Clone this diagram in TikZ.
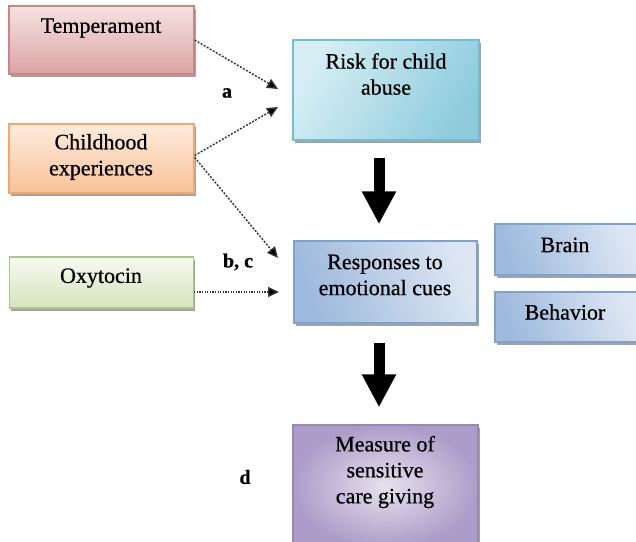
\documentclass[tikz,border=0pt]{standalone}
\usepackage{fontspec}
\setmainfont[FakeBold=0.6]{Liberation Serif}
\usetikzlibrary{arrows.meta,shadows}
\definecolor{tempT}{HTML}{F6E2E2}
\definecolor{tempB}{HTML}{DBA3A3}
\definecolor{tempD}{HTML}{CD8583}
\definecolor{chT}{HTML}{FDEBDD}
\definecolor{chB}{HTML}{F9C298}
\definecolor{chD}{HTML}{F5A66A}
\definecolor{oxT}{HTML}{F7FAF1}
\definecolor{oxB}{HTML}{D5E3BC}
\definecolor{oxD}{HTML}{ABC986}
\definecolor{riL}{HTML}{D6EEF4}
\definecolor{riR}{HTML}{8ECCDD}
\definecolor{riD}{HTML}{6FBFD4}
\definecolor{blL}{HTML}{DDE7F3}
\definecolor{blR}{HTML}{9DB9DC}
\definecolor{blD}{HTML}{7FA1CE}
\definecolor{puL}{HTML}{E6E1EE}
\definecolor{puR}{HTML}{AD9CC9}
\definecolor{puD}{HTML}{9986BB}
\begin{document}
\begin{tikzpicture}[x=1pt,y=-1pt,
  box/.style={draw, line width=1.3pt, rectangle, inner sep=0pt,
    drop shadow={shadow xshift=1.5pt, shadow yshift=-2.5pt, fill=black!60, opacity=0.6}},
  txt/.style={align=center, inner sep=0pt, font=\fontsize{22}{26}\selectfont},
  lbl/.style={inner sep=0pt, font=\fontsize{20}{24}\selectfont\bfseries},
  dotarrow/.style={draw=black!80, line width=1.4pt, dash pattern=on 2pt off 1.5pt,
    -{Triangle[width=10pt,length=11pt,fill=black]}},
  fatarrow/.style={draw=black, line width=11pt, -{Triangle[width=32pt,length=33pt]}}
]
\useasboundingbox (0,0) rectangle (636,541);
% boxes
\node[box, draw=tempD, top color=tempT, bottom color=tempB, minimum width=185pt, minimum height=68pt] (temp) at (101.5,40) {};
\node[box, draw=chD, top color=chT, bottom color=chB, minimum width=185pt, minimum height=69pt] (child) at (101.5,158.5) {};
\node[box, draw=oxD, top color=oxT, bottom color=oxB, minimum width=184pt, minimum height=51pt] (oxy) at (101.5,282.5) {};
\node[box, draw=riD, left color=riL, right color=riR, shading angle=60, minimum width=186pt, minimum height=100pt] (risk) at (386,90) {};
\node[box, draw=blD, left color=blR, right color=blL, shading angle=110, minimum width=183pt, minimum height=82pt] (resp) at (385.5,282) {};
\node[box, draw=blD, left color=blR, right color=blL, shading angle=110, minimum width=145pt, minimum height=51pt] (brain) at (567.5,249.5) {};
\node[box, draw=blD, left color=blR, right color=blL, shading angle=110, minimum width=145pt, minimum height=50pt] (behav) at (567.5,317) {};
\node[box, draw=puD, inner color=puL, outer color=puR, minimum width=185pt, minimum height=122pt] (meas) at (385.5,486) {};
% texts
\node[txt] (tempt) at (101,28) {Temperament};
\node[txt] (childt) at (101,157) {Childhood\\experiences};
\node[txt] (oxyt) at (101,278) {Oxytocin};
\node[txt] (riskt) at (386,74) {Risk for child\\abuse};
\node[txt] (respt) at (385,275) {Responses to\\emotional cues};
\node[txt] (braint) at (565,245) {Brain};
\node[txt] (behavt) at (565,312) {Behavior};
\node[txt] (meast) at (385,472) {Measure of\\sensitive\\care giving};
% labels
\node[lbl] (la) at (227,93) {a};
\node[lbl] (lbc) at (238,262) {b, c};
\node[lbl] (ld) at (245,477) {d};
% connector end points
\coordinate (tA) at (278,89);
\coordinate (tB) at (278,107);
\coordinate (tC) at (278,258);
\coordinate (tD) at (279,292);
\draw[dotarrow] (temp.east) -- (tA);
\draw[dotarrow] ([yshift=3pt]child.east) -- (tB);
\draw[dotarrow] ([yshift=1pt]child.east) -- (tC);
\draw[dotarrow, dash pattern=on 1.3pt off 1.3pt] ([yshift=-9.5pt]oxy.east) -- (tD);
% thick arrows
\draw[fatarrow, shorten <=17pt, shorten >=16pt] ([xshift=-7pt]risk.south) -- ([xshift=-6.5pt]resp.north);
\draw[fatarrow, shorten <=19pt, shorten >=17pt] ([xshift=-6.5pt]resp.south) -- ([xshift=-6.5pt]meas.north);
\end{tikzpicture}
\end{document}
